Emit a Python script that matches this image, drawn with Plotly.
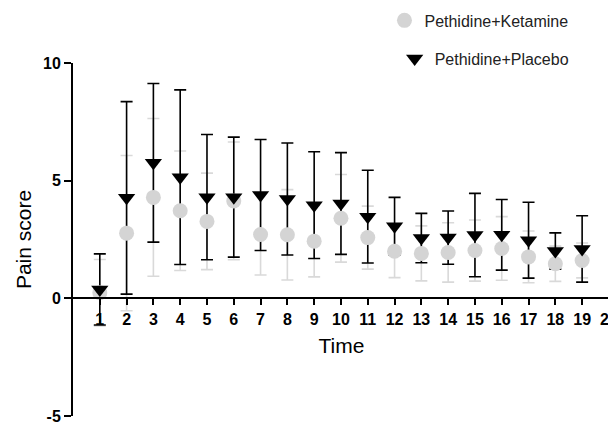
import plotly.graph_objects as go

time = list(range(1, 20))
x_ticks = list(range(1, 21))
y_ticks = [10, 5, 0, -5]

ket_mean = [0.24, 2.77, 4.29, 3.72, 3.27, 4.14, 2.71, 2.70, 2.43, 3.40, 2.58, 2.00, 1.91, 1.95, 2.03, 2.12, 1.76, 1.47, 1.61]
ket_sd = [1.41, 3.30, 3.35, 2.54, 2.05, 2.50, 1.72, 1.92, 1.52, 1.86, 1.34, 1.12, 1.17, 1.26, 1.30, 1.35, 1.10, 0.75, 0.74]

pla_mean = [0.38, 4.27, 5.76, 5.15, 4.30, 4.30, 4.39, 4.22, 3.96, 4.03, 3.47, 3.06, 2.56, 2.58, 2.69, 2.70, 2.47, 2.01, 2.10]
pla_sd = [1.51, 4.09, 3.37, 3.71, 2.66, 2.55, 2.36, 2.38, 2.27, 2.16, 1.97, 1.23, 1.05, 1.13, 1.77, 1.50, 1.61, 0.77, 1.41]

grey_mark = "#d4d4d4"
grey_bar = "#d9d9d9"
FONT = "Liberation Sans, Arial, sans-serif"

fig = go.Figure()

# error bars first (grey below black)
fig.add_trace(go.Scatter(
    x=time, y=ket_mean, mode="markers", showlegend=False, hoverinfo="skip",
    marker=dict(size=1, opacity=0),
    error_y=dict(type="data", array=ket_sd, visible=True, color=grey_bar, thickness=1.6, width=6)))
fig.add_trace(go.Scatter(
    x=time, y=pla_mean, mode="markers", showlegend=False, hoverinfo="skip",
    marker=dict(size=1, opacity=0),
    error_y=dict(type="data", array=pla_sd, visible=True, color="black", thickness=1.6, width=6)))

fig.add_trace(go.Scatter(
    x=time, y=ket_mean, mode="markers", name="Pethidine+Ketamine",
    legend="legend",
    marker=dict(symbol="circle", size=15, color=grey_mark, line=dict(width=0))))
fig.add_trace(go.Scatter(
    x=time, y=pla_mean, mode="markers", name="Pethidine+Placebo",
    legend="legend2",
    marker=dict(symbol="triangle-down", size=15, color="black", line=dict(width=0))))

fig.update_layout(
    width=608, height=421,
    margin=dict(l=65, r=6, t=54.5, b=13, autoexpand=False),
    plot_bgcolor="white", paper_bgcolor="white",
    font=dict(family=FONT, color="black"),
    showlegend=True,
    legend=dict(x=0.58, y=1.1205, xanchor="left", yanchor="middle",
                font=dict(size=16, color="#222"), bgcolor="rgba(0,0,0,0)"),
    legend2=dict(x=0.599, y=1.0127, xanchor="left", yanchor="middle",
                 font=dict(size=16, color="#222"), bgcolor="rgba(0,0,0,0)"),
    xaxis=dict(range=[0, 20.04], tickvals=x_ticks, ticktext=[str(v) for v in x_ticks],
               showgrid=False, zeroline=False, showline=True, linecolor="black", linewidth=2,
               ticks="outside", ticklen=6, tickwidth=2, tickcolor="black",
               tickfont=dict(size=16, family=FONT, weight="bold"),
               ticklabeloverflow="allow",
               anchor="free", position=1/3,
               title=dict(text="Time", font=dict(size=21), standoff=11)),
    yaxis=dict(range=[-5, 10], tickvals=y_ticks, ticktext=[str(v) for v in y_ticks],
               showgrid=False, zeroline=False, showline=True, linecolor="black", linewidth=2,
               ticks="outside", ticklen=7, tickwidth=2, tickcolor="black",
               tickfont=dict(size=16, family=FONT, weight="bold"),
               title=dict(text="Pain score", font=dict(size=21), standoff=6)),
)

fig.write_html("out.html")
